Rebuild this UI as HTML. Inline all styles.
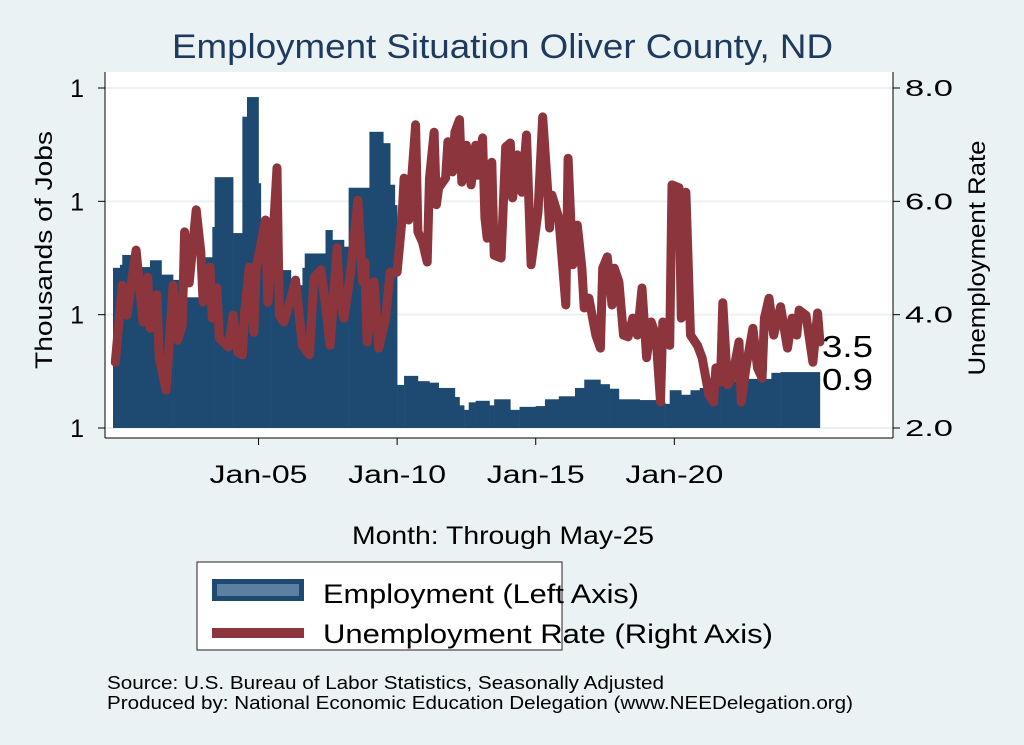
<!DOCTYPE html>
<html><head><meta charset="utf-8"><style>
body{margin:0;background:#eaf2f3;}
svg{display:block;font-family:"Liberation Sans",sans-serif;}
</style></head><body>
<svg id="chart" width="1024" height="745">
<rect x="0" y="0" width="1024" height="745" fill="#eaf2f3"/>
<text x="172" y="58" font-size="34" fill="#1e3a5f" textLength="661" lengthAdjust="spacingAndGlyphs">Employment Situation Oliver  County, ND</text>
<rect x="105" y="72" width="788" height="366" fill="#ffffff"/>
<g id="grid"></g><g id="bars"></g><g id="line"></g><g id="axes"></g>
<text x="52" y="250" font-size="24" text-anchor="middle" textLength="238" lengthAdjust="spacingAndGlyphs" transform="rotate(-90 52 250)">Thousands of Jobs</text>
<text x="985" y="258" font-size="24" text-anchor="middle" textLength="235" lengthAdjust="spacingAndGlyphs" transform="rotate(-90 985 258)">Unemployment Rate</text>
<text x="352" y="544" font-size="25" textLength="302" lengthAdjust="spacingAndGlyphs">Month: Through May-25</text>
<g>
<rect x="197" y="562" width="365" height="88" fill="#fff" stroke="#222" stroke-width="1"/>
<rect x="212" y="579" width="92" height="22" fill="#1e4a72"/>
<rect x="217" y="584" width="82" height="12" fill="#5d7fa0"/>
<text x="323" y="603" font-size="27" textLength="316" lengthAdjust="spacingAndGlyphs">Employment (Left Axis)</text>
<rect x="212" y="628" width="92" height="10" fill="#8d353d"/>
<text x="323" y="643" font-size="27" textLength="450" lengthAdjust="spacingAndGlyphs">Unemployment Rate (Right Axis)</text>
</g>
<text x="107" y="689" font-size="18" textLength="557" lengthAdjust="spacingAndGlyphs">Source: U.S. Bureau of Labor Statistics, Seasonally Adjusted</text>
<text x="107" y="709" font-size="18" textLength="746" lengthAdjust="spacingAndGlyphs">Produced by: National Economic Education Delegation (www.NEEDelegation.org)</text>
</svg>
<script>
const empMonths=[0,3,4,8,12,16,21,26,32,37,40,43,44,52,56,58,63,64,68,72,77,82,83,92,95,100,102,106,111,117,120,122,123,126,132,137,141,148,150,152,154,157,163,165,172,176,183,187,193,200,204,211,215,219,228,235,239,241,246,250,254,259,263,274,285,289];
const empValues=[1.062,1.066,1.079,1.079,1.063,1.072,1.053,1.046,1.023,1.019,1.076,1.116,1.182,1.108,1.262,1.288,1.174,1.083,1.066,1.059,1.039,1.062,1.081,1.112,1.099,1.090,1.168,1.168,1.242,1.227,1.172,1.145,0.907,0.919,0.912,0.910,0.903,0.891,0.880,0.874,0.884,0.886,0.880,0.888,0.874,0.878,0.879,0.888,0.892,0.903,0.914,0.908,0.902,0.888,0.887,0.884,0.882,0.900,0.894,0.900,0.903,0.906,0.912,0.915,0.923,0.924];
const urMonths=[1,4,6,10,13,15,16,19,20,23,26,28,30,31,33,36,38,39,42,43,45,46,50,52,54,56,57,59,61,62,66,67,69,71,72,74,77,79,82,85,87,90,92,94,97,98,100,103,106,108,109,110,113,115,118,120,123,125,126,128,131,132,134,136,137,139,140,141,144,145,147,148,150,151,153,155,157,158,160,161,162,164,165,168,170,172,173,175,177,179,181,184,186,188,189,190,193,196,197,199,201,203,204,206,209,211,212,214,216,217,219,221,223,225,227,229,231,233,235,237,238,241,242,245,246,248,250,253,255,258,260,261,263,264,266,268,271,272,274,277,279,281,282,284,286,289,292,294,296,297,300,303,305,306];
const urValues=[3.16,4.52,3.99,5.14,3.87,4.66,3.76,4.35,3.24,2.67,4.52,3.55,3.82,5.46,4.56,5.85,5.11,4.22,4.84,3.94,4.47,3.59,3.43,3.99,3.34,3.29,4.05,4.84,3.69,4.82,5.67,4.22,5.18,6.59,3.99,3.87,4.29,4.61,3.46,3.29,4.65,4.79,4.17,3.46,5.18,4.35,3.94,4.79,6.02,4.58,4.93,3.52,4.58,3.41,3.94,4.75,4.75,5.64,6.41,5.67,7.35,5.46,5.28,4.93,6.41,7.22,5.94,6.24,6.41,7.05,6.52,7.22,7.44,6.34,6.99,6.29,6.99,6.46,7.12,5.71,5.35,6.69,5.05,5.0,6.96,7.03,6.06,6.82,6.16,7.17,4.88,5.81,7.49,6.29,5.53,6.11,5.71,4.17,6.76,4.88,5.58,4.82,4.12,4.29,3.64,3.41,4.82,5.02,4.17,4.82,4.58,3.64,3.61,3.94,3.64,4.47,3.24,3.87,3.64,2.46,3.87,3.46,6.29,6.24,3.94,6.16,3.64,3.46,3.24,2.58,2.46,3.06,2.81,4.21,2.76,2.88,3.52,2.46,3.06,3.76,3.06,2.88,3.94,4.29,3.64,4.14,3.41,3.94,3.64,4.08,3.99,3.16,4.03,3.52];
const leftTicks=[0.85,1.0,1.15,1.3];
const leftTickLabels=["1","1","1","1"];
const rightTicks=[2,4,6,8];
const rightTickLabels=["2.0","4.0","6.0","8.0"];
const xTicks=[63,123,183,243];
const xTickLabels=["Jan-05","Jan-10","Jan-15","Jan-20"];
const endMonth=306;
const lastUr="3.5", lastEmp="0.9";

const NS="http://www.w3.org/2000/svg";
const xOf=m=>113+2.31*m;
const yL=v=>428-(v-0.85)/0.45*340;
const yR=r=>428-(r-2)/6*340;
function mk(tag,attrs,parent){const e=document.createElementNS(NS,tag);for(const k in attrs)e.setAttribute(k,attrs[k]);document.getElementById(parent).appendChild(e);return e;}
rightTicks.forEach((t,i)=>{
  const g=mk('line',{x1:105,x2:893,y1:yR(t),y2:yR(t),stroke:'#eaf0f3','stroke-width':2},'grid');
  
  
  const tk=mk('line',{x1:893,x2:900,y1:yR(t),y2:yR(t),stroke:'#000'},'axes');
  
  
  const tx=mk('text',{x:905,y:yR(t)+8,'font-size':23,textLength:48,lengthAdjust:'spacingAndGlyphs'},'axes');tx.textContent=rightTickLabels[i];
  
  
});
leftTicks.forEach((t,i)=>{
  const tk=mk('line',{x1:98,x2:105,y1:yL(t),y2:yL(t),stroke:'#000'},'axes');
  
  
  const tx=mk('text',{x:84,y:yL(t)+9,'font-size':25,'text-anchor':'end'},'axes');tx.textContent=leftTickLabels[i];
  
  
});
xTicks.forEach((m,i)=>{
  const tk=mk('line',{x1:xOf(m),x2:xOf(m),y1:438,y2:445,stroke:'#000'},'axes');
  
  
  const tx=mk('text',{x:xOf(m)-49,y:483,'font-size':25,textLength:98,lengthAdjust:'spacingAndGlyphs'},'axes');tx.textContent=xTickLabels[i];
  
  
});
[[105,72,105,438],[893,72,893,438],[105,438,893,438]].forEach(a=>{
  const l=mk('line',{x1:a[0],y1:a[1],x2:a[2],y2:a[3],stroke:'#000'},'axes');
  
  
});
empMonths.forEach((m,i)=>{
  const m2=i+1<empMonths.length?empMonths[i+1]:endMonth;
  const b=mk('rect',{x:xOf(m),y:yL(empValues[i]),width:xOf(m2)-xOf(m)+0.3,height:428-yL(empValues[i]),fill:'#1e4a72'},'bars');
  
  
});
const pts=urMonths.map((m,i)=>xOf(m).toFixed(1)+','+yR(urValues[i]).toFixed(1)).join(' ');
const pl=mk('polyline',{points:pts,fill:'none',stroke:'#8d353d','stroke-width':9,'stroke-linejoin':'round','stroke-linecap':'round'},'line');


const l1=mk('text',{x:822,y:357,'font-size':31,textLength:51,lengthAdjust:'spacingAndGlyphs'},'axes');l1.textContent=lastUr;


const l2=mk('text',{x:822,y:390,'font-size':31,textLength:51,lengthAdjust:'spacingAndGlyphs'},'axes');l2.textContent=lastEmp;


</script>
</body></html>
